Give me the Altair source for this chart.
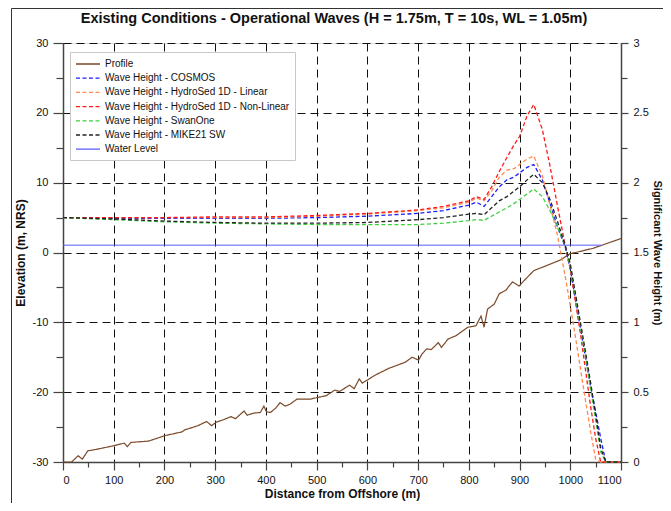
import altair as alt
import pandas as pd

# ---------------- data ----------------
profile_d = [0, 17, 30, 38, 49, 65, 98, 121, 127, 134, 169, 202, 234, 240, 266, 283, 293, 302, 318, 331,
             340, 357, 363, 376, 389, 396, 401, 409, 419, 428, 438, 448, 461, 487, 519, 536, 545, 565, 574,
             584, 590, 617, 642, 675, 688, 701, 708, 717, 726, 740, 746, 759, 775, 798, 814, 824, 830, 837,
             850, 860, 873, 886, 899, 912, 928, 980, 999, 1045, 1100]
profile_e = [-30.0, -30.0, -29.1, -29.6, -28.4, -28.2, -27.7, -27.3, -27.8, -27.2, -27.0, -26.2, -25.7, -25.4,
             -24.8, -24.2, -24.8, -24.3, -23.9, -23.5, -23.8, -22.7, -23.3, -23.0, -22.9, -22.0, -22.8, -22.9,
             -22.3, -21.5, -22.0, -21.7, -21.0, -21.0, -20.5, -19.7, -19.9, -19.0, -19.5, -18.1, -18.7, -17.5,
             -16.6, -15.7, -15.0, -15.4, -14.5, -13.8, -13.9, -12.9, -13.6, -12.4, -11.9, -10.7, -10.5, -9.1,
             -10.7, -8.1, -7.4, -5.9, -5.4, -4.2, -4.8, -3.8, -2.6, -1.1, -0.2, 0.6, 2.0]

wl_d = [0, 1061]
wl_e = [1.05, 1.05]

wave_d = [0, 100, 200, 300, 400, 500, 600, 700, 750, 800, 815, 830, 845, 860, 875, 889, 900, 915, 928,
          945, 960, 975, 990, 1000, 1010, 1020, 1030, 1040, 1050, 1060, 1070, 1100]
cosmos = [1.75, 1.745, 1.745, 1.745, 1.745, 1.75, 1.76, 1.78, 1.80, 1.84, 1.86, 1.83, 1.90, 1.97, 2.02, 2.04,
          2.07, 2.11, 2.13, 2.02, 1.85, 1.68, 1.54, 1.38, 1.17, 0.96, 0.75, 0.54, 0.36, 0.17, 0.0, 0.0]
hs_linear = [1.75, 1.75, 1.75, 1.75, 1.75, 1.76, 1.775, 1.80, 1.82, 1.86, 1.89, 1.87, 1.94, 2.04, 2.09, 2.10,
             2.13, 2.17, 2.19, 2.05, 1.84, 1.62, 1.33, 1.12, 0.90, 0.67, 0.44, 0.22, 0.02, 0.0, 0.0, 0.0]
hs_nonlinear = [1.75, 1.75, 1.75, 1.755, 1.755, 1.765, 1.78, 1.805, 1.83, 1.87, 1.90, 1.88, 1.97, 2.08, 2.18,
                2.27, 2.33, 2.48, 2.56, 2.38, 2.12, 1.83, 1.55, 1.38, 1.15, 0.92, 0.66, 0.40, 0.17, 0.0, 0.0, 0.0]
swanone = [1.75, 1.735, 1.72, 1.71, 1.705, 1.70, 1.70, 1.70, 1.71, 1.728, 1.735, 1.73, 1.76, 1.79, 1.82, 1.85,
           1.88, 1.92, 1.955, 1.90, 1.80, 1.68, 1.55, 1.40, 1.19, 0.97, 0.75, 0.52, 0.30, 0.07, 0.0, 0.0]
mike21 = [1.75, 1.74, 1.725, 1.715, 1.71, 1.71, 1.715, 1.735, 1.75, 1.775, 1.78, 1.77, 1.82, 1.87, 1.90, 1.94,
          1.97, 2.02, 2.06, 2.00, 1.88, 1.72, 1.55, 1.42, 1.21, 1.00, 0.79, 0.57, 0.34, 0.10, 0.0, 0.0]

series_names = ["Profile", "Wave Height - COSMOS", "Wave Height - HydroSed 1D - Linear",
                "Wave Height - HydroSed 1D - Non-Linear", "Wave Height - SwanOne",
                "Wave Height - MIKE21 SW", "Water Level"]
series_colors = ["#7b4a2a", "#1f1fff", "#ff8a4c", "#ff1a1a", "#3fcf3f", "#222222", "#5a5aff"]
series_dashes = [[1, 0], [4, 2.5], [4, 2.5], [4, 2.5], [4, 2.5], [4, 2.5], [1, 0]]

title_text = "Existing Conditions - Operational Waves (H = 1.75m, T = 10s, WL = 1.05m)"

# ---------------- tables ----------------
profile_df = pd.DataFrame({"d": profile_d, "e": profile_e, "series": series_names[0]})
wl_df = pd.DataFrame({"d": wl_d, "e": wl_e, "series": series_names[6]})
wave_frames = []
for name, vals in zip(series_names[1:6], [cosmos, hs_linear, hs_nonlinear, swanone, mike21]):
    wave_frames.append(pd.DataFrame({"d": wave_d, "h": vals, "series": name}))
wave_df = pd.concat(wave_frames, ignore_index=True)

FONT = "Liberation Sans"

color_scale = alt.Scale(domain=series_names, range=series_colors)
dash_scale = alt.Scale(domain=series_names, range=series_dashes)
legend = alt.Legend(orient="none", legendX=7, legendY=9, title=None,
                    symbolType="M-2,0L2,0", symbolSize=144, symbolStrokeWidth=1.3,
                    symbolOffset=6, labelFontSize=10, labelFont=FONT,
                    labelColor="#111", strokeColor="#c8c8c8", fillColor="white", padding=5,
                    rowPadding=2.2, labelOffset=10, labelLimit=400)

x_axis = alt.Axis(values=list(range(0, 1101, 50)), title="Distance from Offshore (m)",
                  labelExpr="datum.value % 100 === 0 ? '' + datum.value : ''",
                  tickSize={"condition": {"test": "datum.value % 100 === 0", "value": 8}, "value": 5},
                  grid=True,
                  gridOpacity={"condition": {"test": "datum.value % 100 === 0", "value": 1}, "value": 0},
                  gridDash=[8, 5], gridColor="#111", gridWidth=1,
                  domainColor="#444", domainWidth=1.5, tickColor="#444", tickWidth=1.2,
                  labelFont=FONT, labelFontSize=11, labelColor="#111", labelPadding=4,
                  titleFont=FONT, titleFontSize=12, titleFontWeight="bold", titleColor="#111",
                  titlePadding=3)

left_axis = alt.Axis(values=list(range(-30, 31, 5)), title="Elevation (m, NRS)", orient="left",
                     labelExpr="datum.value % 10 === 0 ? '' + datum.value : ''",
                     tickSize={"condition": {"test": "datum.value % 10 === 0", "value": 10}, "value": 7},
                     grid=True,
                     gridOpacity={"condition": {"test": "datum.value % 10 === 0", "value": 1}, "value": 0},
                     gridDash=[8, 5], gridColor="#111", gridWidth=1,
                     domainColor="#444", domainWidth=1.5, tickColor="#444", tickWidth=1.2,
                     labelFont=FONT, labelFontSize=11, labelColor="#111", labelPadding=5,
                     titleFont=FONT, titleFontSize=12, titleFontWeight="bold", titleColor="#111",
                     titlePadding=5)

right_axis = alt.Axis(values=[i * 0.25 for i in range(13)], title="Significant Wave Height (m)",
                      orient="right",
                      labelExpr="(datum.value * 2) % 1 === 0 ? '' + datum.value : ''",
                      tickSize={"condition": {"test": "(datum.value * 2) % 1 === 0", "value": 7}, "value": 6},
                      grid=False,
                      domainColor="#444", domainWidth=1.5, tickColor="#444", tickWidth=1.2,
                      labelFont=FONT, labelFontSize=11, labelColor="#111", labelPadding=5,
                      titleFont=FONT, titleFontSize=11, titleFontWeight="bold", titleColor="#111",
                      titlePadding=3)

x_enc = alt.X("d:Q", scale=alt.Scale(domain=[0, 1100], nice=False, zero=False), axis=x_axis)
y_left = alt.Y("e:Q", scale=alt.Scale(domain=[-30, 30], nice=False, zero=False), axis=left_axis)
y_right = alt.Y("h:Q", scale=alt.Scale(domain=[0, 3], nice=False, zero=False), axis=right_axis)
col = alt.Color("series:N", scale=color_scale, legend=legend)
dash = alt.StrokeDash("series:N", scale=dash_scale, legend=legend)

frame = alt.Chart(pd.DataFrame({"k": [0]})).mark_rect(filled=False, stroke="#333", strokeWidth=1).encode(
    x=alt.value(-51.5), x2=alt.value(720), y=alt.value(-34.5), y2=alt.value(560))

profile = alt.Chart(profile_df).mark_line(strokeWidth=1.2).encode(
    x=x_enc, y=y_left, color=col, strokeDash=dash, order="d:Q")
water = alt.Chart(wl_df).mark_line(strokeWidth=1).encode(
    x=x_enc, y=y_left, color=col, strokeDash=dash)
waves = alt.Chart(wave_df).mark_line(strokeWidth=1.3).encode(
    x=x_enc, y=y_right, color=col, strokeDash=dash, order="d:Q")

left = alt.layer(frame, profile, water)
chart = alt.layer(left, waves).resolve_scale(y="independent").properties(
    width=558, height=419,
    title=alt.TitleParams(title_text, font=FONT, fontSize=14.5, fontWeight="bold", color="#111",
                          anchor="middle", frame="group", baseline="alphabetic", dx=-8, offset=-29),
    autosize=alt.AutoSizeParams(type="none"),
    padding={"left": 55, "top": 35, "right": 42, "bottom": 41},
).configure_view(stroke=None).configure(background="white")

chart.save("out.html", embed_options={"renderer": "svg", "actions": False})
